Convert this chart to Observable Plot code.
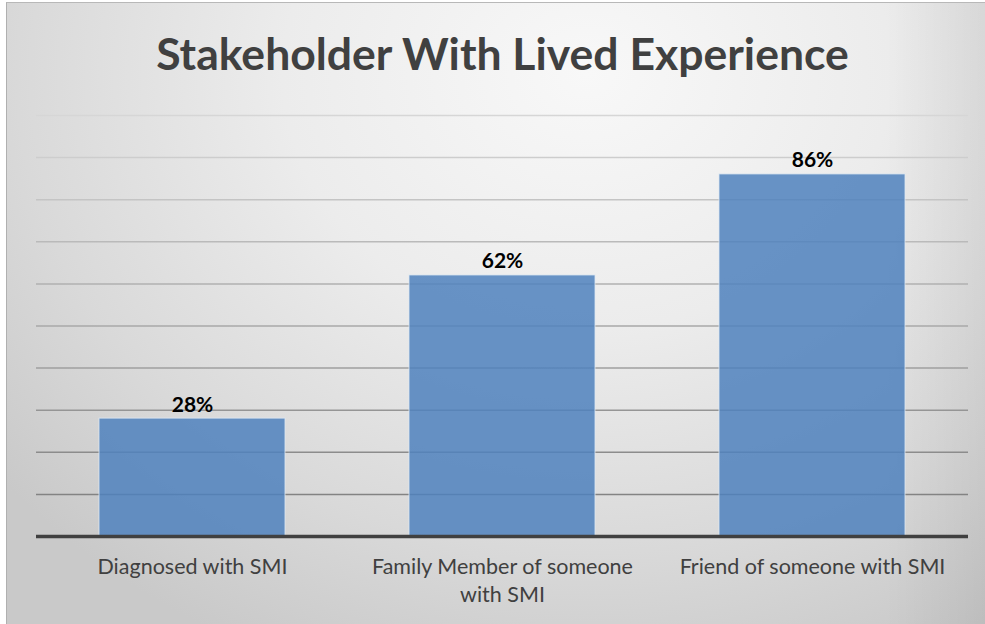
<!DOCTYPE html>
<html>
<head>
<meta charset="utf-8">
<script src="https://cdn.jsdelivr.net/npm/d3@7"></script>
<script src="https://cdn.jsdelivr.net/npm/@observablehq/plot@0.6"></script>
<style>
  html, body { margin: 0; padding: 0; background: #fff; }
  #wrap { position: relative; width: 985px; height: 624px; overflow: hidden; }
  #bg {
    position: absolute; left: 6px; top: 2px; width: 979px; height: 622px;
    box-sizing: border-box; border-top: 1px solid #b8b8b8; border-left: 1px solid #b0b0b0;
    background:
      linear-gradient(to left, rgba(0,0,0,0.06) 0px, rgba(0,0,0,0) 100px),
      radial-gradient(ellipse 760px 640px at 580px 70px, #f8f8f8 0%, #ececec 40%, #d9d9d9 75%, #c9c9c9 100%);
  }
  #chart { position: absolute; left: 0; top: 0; }
</style>
</head>
<body>
<div id="wrap"><div id="bg"></div><div id="chart"></div></div>
<script>
const title = "Stakeholder With Lived Experience";
const categories = ["Diagnosed with SMI", "Family Member of someone with SMI", "Friend of someone with SMI"];
const tickLabels = ["Diagnosed with SMI", "Family Member of someone\nwith SMI", "Friend of someone with SMI"];
const values = [0.28, 0.62, 0.86];
const gridTicks = [0.1, 0.2, 0.3, 0.4, 0.5, 0.6, 0.7, 0.8, 0.9, 1.0];

const data = categories.map((c, i) => ({category: c, value: values[i]}));
const labelOf = new Map(categories.map((c, i) => [c, tickLabels[i]]));
const gridColor = d3.interpolateRgb("#838383", "#d6d6d6");

const chart = Plot.plot({
  width: 985,
  height: 624,
  marginLeft: 36,
  marginRight: 17,
  marginTop: 115,
  marginBottom: 88,
  style: {fontFamily: "Lato, 'Open Sans', sans-serif", background: "transparent", overflow: "visible"},
  x: {domain: categories, paddingInner: 0.4, paddingOuter: 0.2, label: null},
  y: {domain: [0, 1], axis: null},
  color: {type: "identity"},
  marks: [
    Plot.ruleY(gridTicks, {y: d => d, stroke: d => gridColor((d - 0.1) / 0.9), strokeWidth: 1.5}),
    Plot.barY(data, {x: "category", y: "value", fill: "#4f81bd", fillOpacity: 0.85, stroke: "#dfe8f3", strokeOpacity: 0.8, strokeWidth: 1}),
    Plot.ruleY([0], {stroke: "#404040", strokeWidth: 3.5}),
    Plot.text(data, {x: "category", y: "value", text: d => Math.round(d.value * 100) + "%", dy: -7, lineAnchor: "bottom", fontWeight: "bold", fontSize: 21, fill: "#000"}),
    Plot.axisX({tickSize: 0, tickPadding: 18, fontSize: 21.5, fill: "#404040", lineHeight: 1.3, tickFormat: d => labelOf.get(d), label: null}),
    Plot.text([title], {frameAnchor: "top", dy: -46, lineAnchor: "bottom", fontWeight: "bold", fontSize: 44.5, fill: "#404040"})
  ]
});
document.getElementById("chart").append(chart);
</script>
</body>
</html>
